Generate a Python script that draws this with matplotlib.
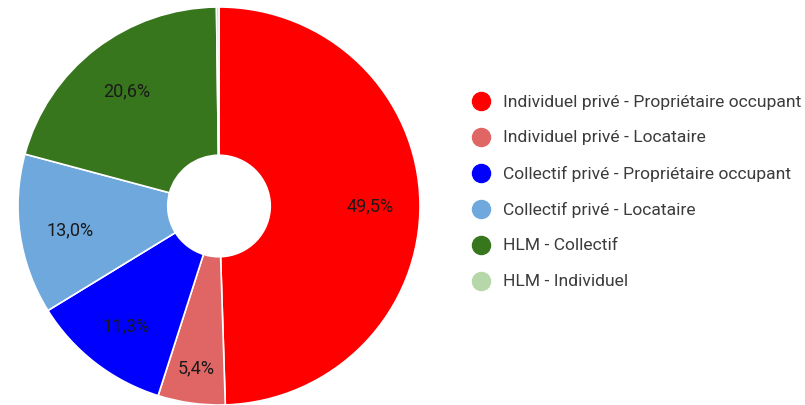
import matplotlib
matplotlib.use("Agg")
import matplotlib.pyplot as plt
from matplotlib.lines import Line2D
import numpy as np

categories = [
    "Individuel privé - Propriétaire occupant",
    "Individuel privé - Locataire",
    "Collectif privé - Propriétaire occupant",
    "Collectif privé - Locataire",
    "HLM - Collectif",
    "HLM - Individuel",
]
shares = [49.5, 5.4, 11.3, 13.0, 20.6, 0.2]
colors = ["#ff0000", "#e06666", "#0000ff", "#6fa8dc", "#38761d", "#b6d7a8"]

plt.rcParams["font.family"] = ["Roboto", "DejaVu Sans"]

W, H = 805, 406
fig = plt.figure(figsize=(W / 100, H / 100), dpi=100)

# donut axes: centre at (219, 207) px from top-left, radii ~201 x 199 px
cx, cy, rx, ry = 219, 207, 201, 199
ax = fig.add_axes([(cx - rx) / W, (H - cy - ry) / H, 2 * rx / W, 2 * ry / H])
ax.axis("off")

wedges, _ = ax.pie(
    shares,
    colors=colors,
    startangle=90,
    counterclock=False,
    radius=1.0,
    wedgeprops=dict(width=0.745, edgecolor="white", linewidth=1.2),
)
ax.set_xlim(-1, 1)
ax.set_ylim(-1, 1)
ax.set_aspect("auto")

# percentage labels inside the larger slices; narrow slices get the label
# pushed further out where the ring is wider
start = 90.0
for val in shares:
    ang = start - val * 3.6 / 2
    start -= val * 3.6
    if val < 3:
        continue
    rad_pos = 0.81 if val < 8 else 0.75
    rad = np.deg2rad(ang)
    ax.text(rad_pos * np.cos(rad), rad_pos * np.sin(rad),
            f"{val:.1f}%".replace(".", ","),
            ha="center", va="center_baseline", fontsize=13, color="#1a1a1a")

# legend drawn as markers + text in figure coordinates
lx, tx = 481, 503
ys = [102, 138, 174, 210, 246, 282]
for name, col, y in zip(categories, colors, ys):
    fig.add_artist(Line2D([lx / W], [1 - y / H], marker="o", markersize=13,
                          markerfacecolor=col, markeredgecolor=col,
                          linestyle="none", transform=fig.transFigure))
    fig.text(tx / W, 1 - y / H, name, ha="left", va="center",
             fontsize=12.6, color="#3c3c3c")

fig.savefig("out.png", dpi=100)
